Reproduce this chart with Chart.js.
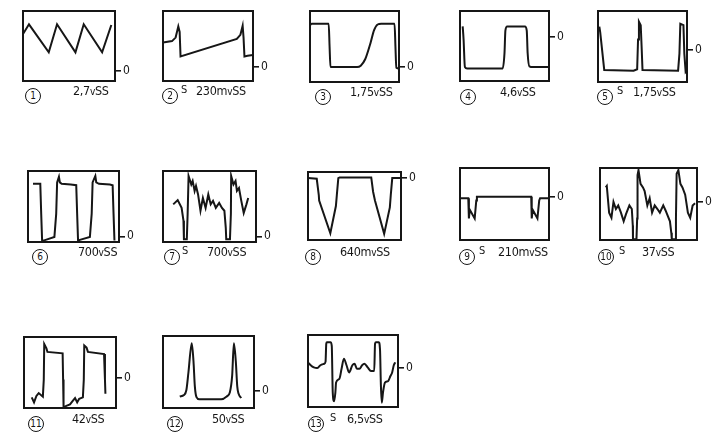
<!DOCTYPE html>
<html>
<head>
<meta charset="utf-8">
<script src="https://cdn.jsdelivr.net/npm/chart.js@4.4.1/dist/chart.umd.min.js"></script>
<style>
  body { margin: 0; background: #fff; width: 716px; height: 439px; position: relative; overflow: hidden;
         font-family: "DejaVu Sans Condensed", "DejaVu Sans", sans-serif; color: #161616; }
  canvas { position: absolute; }
  .num { position: absolute; width: 14px; height: 14px; border: 1.5px solid #161616; border-radius: 50%;
         font-size: 10px; line-height: 14px; text-align: center; }
  .s { position: absolute; font-size: 11px; line-height: 11px; }
  .val { position: absolute; font-size: 12.5px; line-height: 14px; white-space: nowrap; letter-spacing: -0.3px; }
  .val small { font-size: 10px; }
</style>
</head>
<body>
<script>
// oscilloscope traces: [time %, level %] (0 = bottom of screen, 100 = top)
const trace1 = [[0,67],[6.5,81],[28,41],[37,81],[57,41],[66,81],[86,41],[96,80]];
const trace2 = [[0,55],[10,57],[14,62],[17,78],[18.5,70],[19.5,35],[82,60],[86,66],[88.5,79],[89.5,62],[90.5,35],[94,36],[100,37]];
const trace3 = [[0,80],[2,82],[21,82],[22,50],[23,21],[53,21],[57,23],[62,32],[68,55],[72,73],[76,81],[80,82],[95,82],[96,50],[97,20],[100,19]];
const trace4 = [[3,78],[4,60],[5.5,20],[8,18],[48,18],[50,40],[51,72],[53,78],[73,78],[75,72],[76,40],[78,21],[82,20],[100,20]];
const trace5 = [[1.5,78],[2.5,70],[7,17],[40,16],[44,18],[45,60],[46,85],[48,80],[49,50],[50,17],[90,16],[91.5,40],[92.5,82],[96,80],[97,40],[98.5,14],[100,16]];
const trace6 = [[5.5,82],[13.5,82],[14.5,40],[15.5,2],[17,2],[29,7],[31,40],[32,84],[34,92],[35,84],[37,82],[47,81],[53,80],[54,40],[55,2],[57,3],[68,7],[70,40],[71,84],[74,93],[75,84],[78,82],[90,81],[93,80],[94,40],[95,2]];
const trace7 = [[11,53],[15.8,59],[20,48],[22,30],[22.5,4],[25.6,4],[26.5,40],[27.5,93],[30.4,81],[31.9,86],[34,72],[35.5,79],[37.7,67],[40.3,44],[42.9,62],[45.8,48],[48.7,67],[51.3,53],[53.8,58],[56.8,48],[60.4,55],[63.4,48],[66,44],[67.5,20],[68,4],[72,4],[73,40],[73.3,93],[75.8,81],[78,86],[79.5,72],[81.7,76],[84.2,58],[86.8,41],[89.7,53],[91.6,62]];
const trace8 = [[0,91],[9.4,90],[11.6,66],[12,58],[24,10],[30,50],[31,66],[32.6,91],[34,92],[68,92],[70,71],[72,58],[81.9,9],[88,48],[89,66],[90.6,91],[100,91]];
const trace9 = [[0,58],[9.3,58],[10,30],[11,42],[16.5,30],[18.3,55],[19,60],[80,60],[80.6,30],[81.7,42],[87,30],[89,55],[90,58],[100,58]];
const trace10 = [[5.9,73],[7,75],[9.4,38],[11.8,31],[13.9,53],[16.4,43],[18.8,48],[21.6,38],[24.4,26],[26.8,36],[30.3,48],[32.8,43],[33.8,20],[34,1],[37.6,1],[38.3,30],[38.7,90],[39.7,97],[41.8,78],[44.3,73],[46,68],[48.8,48],[51.2,58],[53.7,38],[56.4,48],[59.2,43],[61.7,38],[65.2,48],[67.6,41],[72.1,26],[73.5,10],[74,1],[77.5,1],[78.3,30],[79,92],[80.8,97],[82.9,78],[85,73],[87.8,63],[90.6,38],[93,31],[95.5,48],[98,51]];
const trace11 = [[8.4,15],[10.9,8],[13.5,17],[16,21],[20.5,16],[21.5,40],[22,90],[24.4,84],[25.5,79],[42,77],[42.5,40],[43,1],[46,3],[50,5],[53,10],[55.5,14],[57.8,8],[60,13],[64,15],[65,40],[65.5,88],[68,85],[69.5,79],[87,76],[88,40],[88.5,20]];
const trace12 = [[18.4,16],[23,18],[25.7,25],[28,50],[31.6,90],[33.5,65],[35,30],[36.8,15],[40,12],[64,12],[70,16],[73.5,22],[76,45],[77.9,90],[80,65],[81.6,30],[83,20],[86,14]];
const trace13 = [[0,62],[3,58],[6.5,55],[10,54],[13.8,58],[18,60],[19.5,63],[20.3,88],[21,90],[25,90],[26.4,85],[27.5,20],[29,8],[30.4,20],[31.2,34],[34.8,39],[37.3,53],[39.9,67],[42.8,58],[45.7,48],[49.3,58],[51.8,60],[54.3,53],[57.2,53],[60.1,58],[62.7,60],[66.3,55],[70,50],[73.6,50],[74.5,88],[75.5,90],[78.6,90],[80,80],[81,30],[82,6],[83.3,20],[85.5,34],[89,36],[91.6,43],[93.5,48],[95.3,58],[97,62]];

const traces = [trace1, trace2, trace3, trace4, trace5, trace6, trace7, trace8, trace9, trace10, trace11, trace12, trace13];
// level of the "0" reference mark for each screen
const zeroLevels = [14, 20, 21, 63, 45, 8, 8, 91, 60, 53, 43, 24, 54];
// peak-to-peak readings and whether the screen was triggered externally (S)
const readings = ['2,7', '230m', '1,75', '4,6', '1,75', '700', '700', '640m', '210m', '37', '42', '50', '6,5'];
const sweepS = [false, true, false, false, true, false, true, false, true, true, false, false, true];
const smoothTrace = [false, false, true, true, false, false, false, false, false, false, false, true, true];

// screen frames on the page: x, y, w, h
const boxes = [
  [23, 11, 92, 70], [163, 11, 90, 70], [310, 11, 89, 71], [460, 11, 89, 70], [598, 11, 89, 71],
  [28, 171, 91, 71], [163, 171, 93, 71], [308, 172, 93, 68], [460, 168, 89, 72], [600, 168, 97, 72],
  [24, 337, 92, 71], [163, 336, 91, 72], [308, 335, 90, 72]
];
// caption spots: circle centre x, circle centre y, S x, reading x
const capSpots = [
  [33, 96, 0, 73], [170, 96, 181, 196], [323, 97, 0, 350], [468, 97, 0, 500], [605, 97, 617, 633],
  [40, 257, 0, 78], [172, 257, 182, 207], [313, 257, 0, 340], [467, 257, 479, 498], [606, 257, 619, 642],
  [36, 424, 0, 72], [175, 424, 0, 212], [316, 424, 330, 347]
];

const ink = '#161616';
const pad = 2, axisW = 22;

const framePlugin = {
  id: 'frame',
  beforeDatasetsDraw(chart) {
    const a = chart.chartArea, ctx = chart.ctx;
    ctx.save();
    ctx.strokeStyle = ink;
    ctx.lineWidth = 2;
    ctx.strokeRect(a.left, a.top, a.right - a.left, a.bottom - a.top);
    ctx.restore();
  }
};

traces.forEach((tr, i) => {
  const [bx, by, bw, bh] = boxes[i];
  const cv = document.createElement('canvas');
  const W = bw + axisW + pad, H = bh + 2 * pad;
  cv.width = W; cv.height = H;
  cv.style.left = (bx - pad) + 'px';
  cv.style.top = (by - pad) + 'px';
  cv.style.width = W + 'px';
  cv.style.height = H + 'px';
  document.body.appendChild(cv);

  new Chart(cv, {
    type: 'line',
    data: {
      datasets: [{
        data: tr.map(([t, v]) => ({ x: t, y: v })),
        borderColor: ink,
        borderWidth: 2,
        pointRadius: 0,
        fill: false,
        tension: smoothTrace[i] ? 0.4 : 0,
        cubicInterpolationMode: smoothTrace[i] ? 'monotone' : 'default'
      }]
    },
    options: {
      responsive: false,
      animation: false,
      events: [],
      layout: { padding: { left: pad, top: pad, bottom: pad, right: 0 } },
      plugins: { legend: { display: false }, tooltip: { enabled: false } },
      scales: {
        x: { type: 'linear', min: 0, max: 100, display: false },
        y: { min: 0, max: 100, display: false },
        zero: {
          position: 'right', min: 0, max: 100,
          afterFit(s) { s.width = axisW; s.paddingTop = 0; s.paddingBottom = 0; },
          afterBuildTicks(s) { s.ticks = [{ value: zeroLevels[i] }]; },
          ticks: { callback: () => '0', color: ink, padding: 2, font: { size: 12, family: '"DejaVu Sans Condensed", sans-serif' } },
          grid: { drawOnChartArea: false, drawTicks: true, tickLength: 6, color: ink, lineWidth: 1.6 },
          border: { display: false }
        }
      }
    },
    plugins: [framePlugin]
  });

  // caption under the screen
  const [cx, cy, sx, tx] = capSpots[i];
  const num = document.createElement('div');
  num.className = 'num';
  num.textContent = i + 1;
  num.style.left = (cx - 8) + 'px';
  num.style.top = (cy - 8) + 'px';
  document.body.appendChild(num);
  if (sweepS[i]) {
    const s = document.createElement('div');
    s.className = 's';
    s.textContent = 'S';
    s.style.left = sx + 'px';
    s.style.top = (cy - 12) + 'px';
    document.body.appendChild(s);
  }
  const val = document.createElement('div');
  val.className = 'val';
  val.innerHTML = readings[i] + '<small>v</small>SS';
  val.style.left = tx + 'px';
  val.style.top = (cy - 12) + 'px';
  document.body.appendChild(val);
});
</script>
</body>
</html>
